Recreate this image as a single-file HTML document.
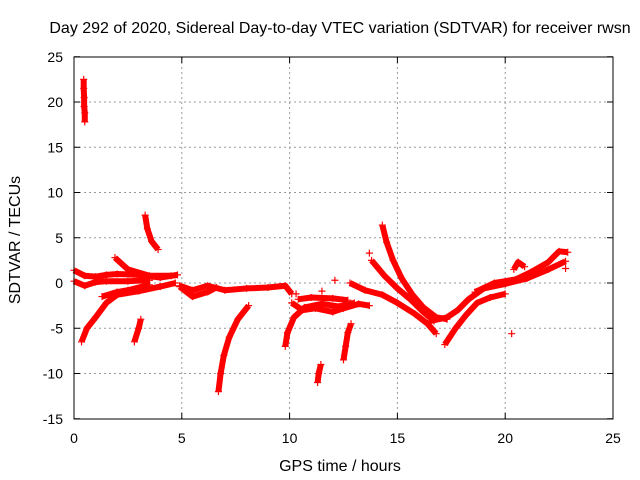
<!DOCTYPE html>
<html><head><meta charset="utf-8"><style>
body{margin:0;background:#fff;}
svg{display:block;font-family:"Liberation Sans",sans-serif;}
</style></head><body>
<svg id="chart" width="640" height="480">
<text x="340" y="33" text-anchor="middle" font-size="16">Day 292 of 2020, Sidereal Day-to-day VTEC variation (SDTVAR) for receiver rwsn</text>
<g id="grid"></g>
<g id="ticks"></g>
<g id="marks"></g>
<rect x="74" y="57" width="539" height="362" fill="none" stroke="#000" stroke-width="1"/>
<text x="340" y="471" text-anchor="middle" font-size="16">GPS time / hours</text>
<text transform="translate(20,240) rotate(-90)" text-anchor="middle" font-size="16">SDTVAR / TECUs</text>
</svg>
<script>
const xTicks=[0,5,10,15,20,25];
const yTicks=[-15,-10,-5,0,5,10,15,20,25];
const trackSpike=[[0.45,22.5],[0.45,21.5],[0.47,20.5],[0.47,19.5],[0.5,18.8],[0.5,17.8]];
const trackUpper=[[0,1.4],[0.5,0.8],[1,0.7],[1.5,0.9],[2,1.0],[3,0.9],[4,0.6],[4.8,0.9]];
const trackZero=[[0,0.2],[0.5,-0.3],[1,0.1],[1.5,0.2],[2.5,0.2],[3.5,0.3]];
const trackRise1=[[1.9,2.8],[2.5,1.5],[3.5,0.8],[4.5,0.8]];
const trackLower=[[0.35,-6.5],[0.6,-5],[1,-3.8],[1.5,-2.2],[2,-1.3],[3,-0.9],[4,-0.4],[4.7,0]];
const trackLower2=[[1.3,-1.5],[2,-1.0],[2.5,-0.8],[3.5,-0.2]];
const trackShort1=[[2.8,-6.5],[3.0,-5],[3.1,-4]];
const trackShort2=[[3.3,7.5],[3.4,6],[3.6,4.6],[3.9,3.7]];
const trackMid=[[4.9,-0.3],[5.5,-0.8],[6.2,-0.3],[7,-0.8],[8,-0.6],[9,-0.5],[9.8,-0.3],[10.1,-1.2]];
const trackLoop=[[4.9,-0.4],[5.5,-1.5],[6.2,-1.0],[6.6,-0.5]];
const trackDrop=[[6.7,-12],[6.8,-10],[6.95,-8],[7.2,-6],[7.6,-4],[8.1,-2.5]];
const trackRise2=[[9.8,-7],[9.9,-5.5],[10.2,-3.8],[10.7,-2.7],[11.5,-2.3],[12.3,-2.6],[13,-2.2]];
const trackBand=[[10.1,-2.2],[10.6,-3],[11.2,-2.8],[12,-3.2],[12.5,-2.8],[13.2,-2.3],[13.7,-2.5]];
const trackBand2=[[10.4,-1.8],[11,-1.6],[12,-1.7],[12.7,-1.9]];
const trackShort3=[[11.3,-11],[11.35,-10],[11.45,-9]];
const trackShort4=[[12.5,-8.5],[12.6,-7],[12.7,-5.5],[12.85,-4.5]];
const trackFall1=[[14.3,6.4],[14.5,4.5],[14.8,2.5],[15.2,0.5],[15.7,-1.3],[16.2,-2.7],[16.8,-3.8],[17.3,-4]];
const trackFall2=[[13.8,2.5],[14.4,0.8],[15,-0.6],[15.6,-1.8],[16.2,-3.2],[16.7,-4.2]];
const trackFall3=[[12.8,0],[13.5,-0.8],[14.3,-1.3],[15,-2.2],[15.8,-3.4],[16.4,-4.5],[16.8,-5.6]];
const trackUp1=[[16.5,-4.2],[17.3,-3.8],[17.8,-3],[18.3,-1.8],[19,-0.6],[20,-0.1],[21,0.5],[22,1.5],[22.8,2.4]];
const trackUp2=[[17.2,-6.8],[17.7,-5],[18.2,-3.5],[18.7,-2.2],[19.3,-1.6],[20,-1.2]];
const trackUp3=[[18.6,-1.0],[19.5,0],[20.5,0.4],[21.2,1.2],[22,2.3],[22.5,3.5],[22.9,3.4]];
const trackBump=[[20.4,1.5],[20.6,2.3],[20.9,1.8]];
const isolated=[[20.3,-5.6],[13.7,3.3],[11.5,-0.9],[12.1,0.3],[10.3,-1.2],[22.8,1.6]];
const tracks=[trackSpike,trackUpper,trackZero,trackRise1,trackLower,trackLower2,trackShort1,trackShort2,trackMid,trackLoop,trackDrop,trackRise2,trackBand,trackBand2,trackShort3,trackShort4,trackFall1,trackFall2,trackFall3,trackUp1,trackUp2,trackUp3,trackBump];
const NS="http://www.w3.org/2000/svg";
const X=h=>74+h*(539/25);
const Y=v=>283-v*(362/40);
function mk(tag,attrs,parent){const e=document.createElementNS(NS,tag);for(const k in attrs)e.setAttribute(k,attrs[k]);parent.appendChild(e);return e;}
const grid=document.getElementById('grid'),ticks=document.getElementById('ticks'),marks=document.getElementById('marks');
xTicks.forEach(t=>{
 if(t>0&&t<25){const g=mk('line',{x1:X(t),x2:X(t),y1:57,y2:419,stroke:'#999','stroke-dasharray':'2,3'},grid);
 
 }
 const l=mk('text',{x:X(t),y:443,'text-anchor':'middle','font-size':14},ticks);l.textContent=t;
 
 
 mk('line',{x1:X(t),x2:X(t),y1:419,y2:413,stroke:'#000'},ticks);
 mk('line',{x1:X(t),x2:X(t),y1:57,y2:63,stroke:'#000'},ticks);
});
yTicks.forEach(t=>{
 if(t>-15&&t<25){const g=mk('line',{x1:74,x2:613,y1:Y(t),y2:Y(t),stroke:'#999','stroke-dasharray':'2,3'},grid);
 
 }
 const l=mk('text',{x:63,y:Y(t)+5,'text-anchor':'end','font-size':14},ticks);l.textContent=t;
 
 
 mk('line',{x1:74,x2:80,y1:Y(t),y2:Y(t),stroke:'#000'},ticks);
 mk('line',{x1:613,x2:607,y1:Y(t),y2:Y(t),stroke:'#000'},ticks);
});
function plus(h,v){const x=X(h),y=Y(v);
 const p=mk('path',{d:`M${x-3.5},${y}H${x+3.5}M${x},${y-3.5}V${y+3.5}`,stroke:'#f00','stroke-width':1.2,fill:'none'},marks);
 
 }
tracks.forEach(tr=>{
 const pl=mk('polyline',{points:tr.map(p=>X(p[0])+','+Y(p[1])).join(' '),fill:'none',stroke:'#f00','stroke-width':6,'stroke-linejoin':'round'},marks);
 
 
 tr.forEach(p=>plus(p[0],p[1]));
});
isolated.forEach(p=>plus(p[0],p[1]));
</script>
</body></html>
